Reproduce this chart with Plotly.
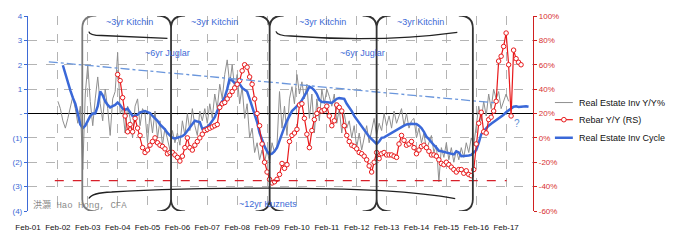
import plotly.graph_objects as go

# ---------------- data ----------------
x_tick_labels = ["Feb-01", "Feb-02", "Feb-03", "Feb-04", "Feb-05", "Feb-06", "Feb-07", "Feb-08",
                 "Feb-09", "Feb-10", "Feb-11", "Feb-12", "Feb-13", "Feb-14", "Feb-15", "Feb-16", "Feb-17"]
left_tick_vals = [-4, -3, -2, -1, 0, 1, 2, 3, 4]
left_tick_text = ["(4)", "(3)", "(2)", "(1)", "-", "1", "2", "3", "4"]
right_tick_vals = [-60, -40, -20, 0, 20, 40, 60, 80, 100]
right_tick_text = ["-60%", "-40%", "-20%", "0%", "20%", "40%", "60%", "80%", "100%"]

# Real Estate Inv Y/Y% (standardised, left axis), monthly from Feb-02
gray_start = "2002-02"
gray_vals = [
    0.5, 0.2, -0.3, -0.6, -0.2, 0.3, 0.7, 0.2, -0.4, 0.3, -2.3, 0.8,
    2.0, 0.5, -0.5, 0.6, 1.5, 0.4, -0.3, 1.0, 0.2, -0.9, 0.6, 0.9,
    2.5, 0.0, 0.2, -0.8, 0.3, -0.2, -1.0, 0.3, 0.6, -0.5, 0.2, 0.0,
    -1.2, 0.0, -0.8, 0.1, -1.0, -0.3, -1.3, -0.6, -1.0, -1.5, -0.7, -1.2,
    -0.8, -1.3, -0.3, -0.9, 0.0, -0.7, 0.2, -0.5, -0.9, 0.1, -0.3, 0.2,
    -0.4, 0.4, -0.2, 0.8, 0.2, 1.2, 0.6, 1.6, 2.2, 1.2, 2.0, 1.0,
    1.6, 0.4, 1.1, -0.2, 0.4, -1.0, -0.6, -1.6, -1.2, -1.9, -1.5, -2.0,
    -1.5, -2.0, -1.2, -1.6, -1.3, 0.9, -0.6, 0.3, -0.9, 0.6, 1.1, 0.4,
    1.6, 0.8, 1.3, 0.6, 1.2, -0.2, 0.8, -0.8, 0.6, -0.3, 1.0, 0.4,
    1.0, 0.7, 0.3, 0.8, -0.4, 0.2, -0.8, 0.0, -0.6, -0.3, -1.0, -0.5,
    -1.4, -0.8, -1.5, -1.0, -0.5, -1.2, -0.7, -0.2, -0.9, -0.4, -0.7, 0.0,
    -0.5, -0.1, -0.6, 0.1, -0.4, -0.1, 0.2, -0.5, 0.0, -0.6, -0.3, -0.2,
    -1.0, -0.6, -1.2, -0.8, -1.5, -1.2, -0.9, -1.6, -1.3, -2.8, -1.4, -1.8,
    -1.2, -1.9, -1.4, -2.0, -1.5, -1.9, -1.4, -1.8, -1.2, -1.6, -1.0, -1.3,
    -0.5, 0.3, -0.3, 0.5, -0.1, 0.8, 0.2, 1.0, 0.6, 0.9, 0.2, 0.5,
    0.8, 0.5,
]

# Real Estate Inv Cycle (left axis), monthly from Apr-02
blue_start = "2002-04"
blue_vals = [
    1.98, 1.6, 1.25, 0.95, 0.65, 0.4, 0.0, -0.45, -0.6, -0.5,
    -0.3, -0.1, 0.0, 0.0, 0.3, 0.9, 0.75, 0.5, 0.35, 0.25, 0.3, 0.35,
    0.45, 0.35, 0.2, 0.15, 0.2, 0.05, -0.1, -0.1, -0.05, 0.05, 0.08, 0.1,
    0.06, 0.02, -0.1, -0.2, -0.3, -0.45, -0.55, -0.65, -0.8, -0.9, -1.0, -1.02,
    -1.0, -0.97, -0.93, -0.85, -0.7, -0.55, -0.4, -0.3, -0.33, -0.35, -0.63, -0.6,
    -0.55, -0.45, -0.3, -0.15, 0.1, 0.35, 0.5, 0.67, 1.0, 1.45, 1.35, 1.25,
    1.25, 1.2, 1.05, 0.98, 0.9, 0.6, 0.3, 0.0, -0.35, -0.8, -1.1, -1.35,
    -1.55, -1.68, -1.65, -1.55, -1.4, -1.1, -0.85, -0.55, -0.3, -0.1, 0.1, 0.2,
    0.3, 0.4, 0.55, 0.7, 0.9, 1.1, 1.05, 0.95, 0.8, 0.55, 0.47, 0.47,
    0.47, 0.45, 0.43, 0.5, 0.6, 0.63, 0.63, 0.6, 0.4, 0.27, 0.1, -0.1,
    -0.25, -0.4, -0.55, -0.7, -0.85, -0.95, -1.05, -1.15, -1.25, -1.15, -1.0, -0.98,
    -0.92, -0.85, -0.8, -0.72, -0.65, -0.6, -0.55, -0.5, -0.45, -0.43, -0.42, -0.43,
    -0.43, -0.5, -0.6, -0.75, -0.95, -1.05, -1.2, -1.3, -1.4, -1.53, -1.55, -1.58,
    -1.6, -1.62, -1.65, -1.68, -1.55, -1.6, -1.75, -1.75, -1.73, -1.72, -1.7, -1.6,
    -1.5, -1.2, -0.85, -0.72, -0.6, -0.5, -0.42, -0.35, -0.28, -0.2, -0.12, -0.05,
    0.05, 0.12, 0.2, 0.28, 0.3, 0.27, 0.28, 0.3, 0.3, 0.28,
]

# Rebar Y/Y % (right axis), monthly from Feb-04
red_start = "2004-02"
red_vals = [
    52, 47, 33, 18, 5, 11, 5, 16, 8, 2, -8, -12,
    -10, -6, -3, 0, -4, -6, -7, -9, -13, -12, -12, -14,
    -16, -19, -15, -8, 0, -8, -10, -6, -3, 0, 3, 6,
    7, 8, 9, 10, 11, 25, 28, 29, 32, 35, 38, 41,
    44, 47, 55, 60, 58, 50, 44, 32, 20, 10, -5, -20,
    -28, -34, -37, -36, -34, -30, -21, -25, -22, -3, 2, 4,
    7, 27, 28, 16, 3, -8, 6, 15, 20, 23, 22, 23,
    26, 18, 10, 14, 27, 25, 22, 10, 2, -3, -6, -7,
    -9, -12, -13, -15, -18, -23, -28, -20, -12, -17, -13, -12,
    -14, -14, -14, -15, -16, -5, 2, -2, -6, -5, -3, -8,
    -13, -10, -7, -6, -8, -11, -14, -14, -15, -18, -21, -22,
    -20, -22, -24, -26, -28, -26, -26, -29, -27, -30, -31, -26,
    -5, 12, 21, 5, 4, 15, 17, 22, 30, 63, 67, 75,
    86, 60, 18, 72, 65, 62, 60,
]

# reference lines
trend_x = [2001.78, 2016.78]
trend_y = [2.12, 0.43]
rebar_floor = -35
rebar_floor_x = [2001.98, 2017.10]

# cycle boundaries (decimal years)
boundaries = [2002.90, 2005.87, 2009.17, 2012.75, 2015.97]


def month_axis(start, n):
    y, m = map(int, start.split("-"))
    base = y + (m - 1) / 12
    return [base + i / 12 for i in range(n)]


x_tick_vals = [2001 + 1 / 12 + i for i in range(len(x_tick_labels))]

BLUE_TXT = "#3d6ad6"
RED = "#e8191b"
GRID = "#b4b4b4"

fig = go.Figure()
fig.add_trace(go.Scatter(
    x=month_axis(gray_start, len(gray_vals)), y=gray_vals, mode="lines",
    line=dict(color="#8f8f8f", width=1), name="Real Estate Inv Y/Y%"))
fig.add_trace(go.Scatter(
    x=month_axis(blue_start, len(blue_vals)), y=blue_vals, mode="lines",
    line=dict(color="#3a68d8", width=2.5), name="Real Estate Inv Cycle"))
fig.add_trace(go.Scatter(
    x=month_axis(red_start, len(red_vals)), y=red_vals, mode="lines+markers", yaxis="y2",
    line=dict(color=RED, width=1.2),
    marker=dict(symbol="circle", size=4.5, color="white", line=dict(color=RED, width=1)),
    name="Rebar Y/Y (RS)"))

shapes = []
# trend line (dash-dot blue)
shapes.append(dict(type="line", xref="x", yref="y", x0=trend_x[0], y0=trend_y[0],
                   x1=trend_x[1], y1=trend_y[1], line=dict(color="#6a96dc", width=1.3, dash="dashdot"),
                   layer="above"))
# rebar floor (red dashed)
shapes.append(dict(type="line", xref="x", yref="y2", x0=rebar_floor_x[0], y0=rebar_floor,
                   x1=rebar_floor_x[1], y1=rebar_floor, line=dict(color="#d8202a", width=1.3, dash="dash"),
                   layer="above"))

# parenthesis-like cycle boundaries
W = 0.47
TOP, JT, BOT, JB = 4.02, 3.5, -4.02, -3.52
for i, t in enumerate(boundaries):
    p = f"M{t},{JT} L{t},{JB}"
    if i > 0:
        p += f" M{t},{JT} Q{t},{TOP} {t - W},{TOP} M{t},{JB} Q{t},{BOT} {t - W},{BOT}"
    if i < len(boundaries) - 1:
        p += f" M{t},{JT} Q{t},{TOP} {t + W},{TOP} M{t},{JB} Q{t},{BOT} {t + W},{BOT}"
    col = "#7a7a7a" if i == 0 else "#333333"
    shapes.append(dict(type="path", xref="x", yref="y", path=p,
                       line=dict(color=col, width=1.8), layer="above"))

# top Kitchin braces
shapes.append(dict(type="path", xref="x", yref="y",
                   path="M2003.12,3.36 Q2003.14,3.2 2003.55,3.2 L2005.75,3.08",
                   line=dict(color="#222222", width=1.3), layer="above"))
shapes.append(dict(type="path", xref="x", yref="y",
                   path="M2009.38,3.37 Q2009.42,3.18 2009.88,3.18 Q2012.88,2.9 2015.45,3.33",
                   line=dict(color="#222222", width=1.3), layer="above"))
# bottom Kuznets brace
shapes.append(dict(type="path", xref="x", yref="y",
                   path="M2003.12,-3.49 Q2003.22,-3.25 2003.88,-3.22 Q2005.88,-3.06 2009.18,-3.06 "
                        "Q2013.55,-3.06 2015.38,-3.49",
                   line=dict(color="#222222", width=1.3), layer="above"))

# manual legend
PL, PR, PT, PB = 26, 533, 12, 217


def px(xp):
    return (xp - PL) / (PR - PL)


def py(yp):
    return (PB - yp) / (PB - PT)


legend_items = [("Real Estate Inv Y/Y%", "#8f8f8f", 1, 103, False),
                ("Rebar Y/Y (RS)", RED, 1.2, 121, True),
                ("Real Estate Inv Cycle", "#3a68d8", 2.5, 140, False)]
annotations = []
for label, col, w, yy, mk in legend_items:
    shapes.append(dict(type="line", xref="paper", yref="paper", x0=px(555), x1=px(573),
                       y0=py(yy), y1=py(yy), line=dict(color=col, width=w)))
    if mk:
        shapes.append(dict(type="circle", xref="paper", yref="paper", xsizemode="pixel", ysizemode="pixel",
                           xanchor=px(564), yanchor=py(yy), x0=-2.3, x1=2.3, y0=-2.3, y1=2.3,
                           fillcolor="white", line=dict(color=col, width=1)))
    annotations.append(dict(x=px(577), y=py(yy), xref="paper", yref="paper", text=label,
                            showarrow=False, xanchor="left", yanchor="middle",
                            font=dict(size=9, color="#111111")))

# chart text labels
for t in [2004.48, 2007.32, 2010.95, 2014.22]:
    annotations.append(dict(x=t, y=3.75, xref="x", yref="y", text="~3yr Kitchin", showarrow=False,
                            font=dict(size=9, color=BLUE_TXT)))
for t in [2005.75, 2012.28]:
    annotations.append(dict(x=t, y=2.48, xref="x", yref="y", text="~6yr Juglar", showarrow=False,
                            font=dict(size=9, color=BLUE_TXT)))
annotations.append(dict(x=2009.12, y=-3.73, xref="x", yref="y", text="~12yr Kuznets", showarrow=False,
                        font=dict(size=9, color=BLUE_TXT)))
annotations.append(dict(x=2001.18, y=-3.76, xref="x", yref="y", text="洪灝 Hao Hong, CFA", showarrow=False,
                        xanchor="left",
                        font=dict(size=9, color="#8a8a8a",
                                  family="Liberation Mono, Noto Sans CJK SC, monospace")))
annotations.append(dict(x=2017.45, y=-0.43, xref="x", yref="y", text="?", showarrow=False,
                        font=dict(size=10, color="#5b8fd6")))

fig.update_layout(
    width=698, height=244,
    margin=dict(l=PL, r=698 - PR, t=PT, b=244 - PB),
    plot_bgcolor="white", paper_bgcolor="white",
    showlegend=False,
    font=dict(family="Liberation Sans, Arial, sans-serif", size=8, color="#111111"),
    shapes=shapes, annotations=annotations,
    xaxis=dict(range=[2001 + 1 / 12, 2017.983], tickmode="array", tickvals=x_tick_vals,
               ticktext=x_tick_labels, showgrid=True, gridcolor=GRID, griddash="dash", gridwidth=1,
               zeroline=False, showline=False, ticks="outside", ticklen=8, tickcolor="rgba(0,0,0,0)",
               tickfont=dict(size=8, color="#111111")),
    yaxis=dict(range=[-4, 4], tickmode="array", tickvals=left_tick_vals, ticktext=left_tick_text,
               showgrid=True, gridcolor=GRID, griddash="dash", gridwidth=1,
               zeroline=True, zerolinecolor="#000000", zerolinewidth=1.3,
               showline=True, linecolor="#3d6ad6", linewidth=1.3,
               ticks="outside", ticklen=3, tickcolor="#3d6ad6",
               tickfont=dict(size=8, color=BLUE_TXT)),
    yaxis2=dict(range=[-60, 100], overlaying="y", side="right", tickmode="array",
                tickvals=right_tick_vals, ticktext=right_tick_text, showgrid=False, zeroline=False,
                showline=True, linecolor="#d02020", linewidth=1.3,
                ticks="outside", ticklen=3, tickcolor="#d02020",
                tickfont=dict(size=8, color="#d83030")),
)

fig.write_html("out.html")
